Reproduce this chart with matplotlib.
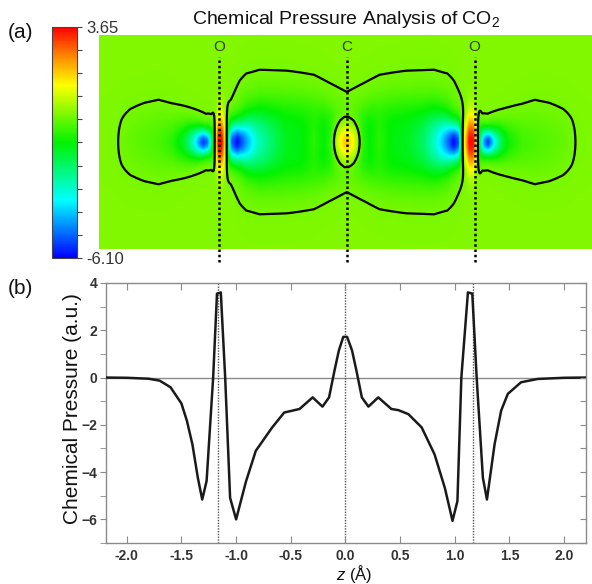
import numpy as np
import matplotlib
matplotlib.use("Agg")
import matplotlib.pyplot as plt
from matplotlib.colors import LinearSegmentedColormap, Normalize

plt.rcParams['font.family'] = ['Liberation Sans', 'DejaVu Sans']
plt.rcParams['mathtext.fontset'] = 'custom'
plt.rcParams['mathtext.rm'] = 'Liberation Sans'
plt.rcParams['mathtext.it'] = 'Liberation Sans:italic'

# ---------------- data ----------------
atom_labels = ["O", "C", "O"]
atom_z = [-1.17, 0.0, 1.17]

# line profile of chemical pressure along the molecular axis (panel b)
z_prof = [-2.2, -2.0, -1.8, -1.7, -1.6, -1.5, -1.45, -1.4, -1.35, -1.31, -1.27,
          -1.21, -1.175, -1.14, -1.10, -1.055, -1.0, -0.91, -0.82, -0.67, -0.56,
          -0.42, -0.30, -0.21, -0.15, -0.10, -0.06, -0.02, 0.015, 0.06, 0.10,
          0.15, 0.21, 0.30, 0.42, 0.485, 0.576, 0.697, 0.815, 0.909, 0.979,
          1.024, 1.06, 1.12, 1.16, 1.20, 1.257, 1.294, 1.364, 1.424, 1.485,
          1.606, 1.757, 2.0, 2.2]
cp_prof = [0.0, -0.01, -0.05, -0.13, -0.41, -1.1, -1.83, -2.82, -4.24, -5.16, -4.38,
           0.0, 3.55, 3.6, 0.0, -5.09, -6.0, -4.4, -3.1, -2.11, -1.48,
           -1.33, -0.84, -1.23, -0.84, 0.3, 1.15, 1.72, 1.72, 1.15, 0.3,
           -0.84, -1.23, -0.84, -1.33, -1.38, -1.55, -2.11, -3.25, -4.67, -6.06,
           -5.23, 0.0, 3.6, 3.55, 0.0, -4.24, -5.16, -2.82, -1.4, -0.69,
           -0.2, -0.06, -0.01, 0.0]

# transverse shape of the 2D map (panel a), given vs |z|
w_absz = [0.0, 0.15, 0.3, 0.5, 0.8, 0.97, 1.06, 1.12, 1.175, 1.24, 1.29, 1.5, 2.3]
w_vals = [0.137, 0.15, 0.2, 0.2, 0.18, 0.12, 0.12, 0.17, 0.17, 0.09, 0.08, 0.12, 0.2]
inner_absz = [0.0, 0.92, 1.1, 2.3]
inner_vals = [-1.3, -1.3, 0.0, 0.0]
inner_W_absz = [0.0, 0.3, 0.55, 0.8, 0.98, 1.1, 2.3]
inner_W_vals = [0.205, 0.268, 0.285, 0.29, 0.27, 0.22, 0.2]
outer_absz = [0.0, 1.19, 1.22, 1.72, 1.85, 1.98, 2.06, 2.1, 2.3]
outer_vals = [0.0, 0.0, -0.4, -0.4, -0.35, -0.25, -0.15, -0.08, 0.0]
outer_W_absz = [0.0, 1.2, 1.24, 1.72, 1.95, 2.3]
outer_W_vals = [0.13, 0.13, 0.13, 0.23, 0.22, 0.22]

cbar_min, cbar_max = -6.10, 3.65
contour_level = -0.1

# ---------------- figure ----------------
FW, FH = 592, 584
fig = plt.figure(figsize=(FW / 100, FH / 100), dpi=100)

def fx(px):
    return px / FW

def fy(py):
    return 1 - py / FH

cmap = LinearSegmentedColormap.from_list(
    "cp", [(0.0, (0.0, 0.0, 1.0)), (0.25, (0.0, 1.0, 1.0)), (0.5, (0.0, 0.95, 0.0)),
           (0.75, (1.0, 1.0, 0.0)), (0.87, (1.0, 0.55, 0.0)), (1.0, (1.0, 0.0, 0.0))])
norm = Normalize(vmin=cbar_min, vmax=cbar_max)

# ---- panel (a): 2D map ----
ax1 = fig.add_axes([fx(99.3), fy(249), fx(592 - 99.3), (249 - 35) / FH])
scale = 109.3
x0 = (99.3 - 346.8) / scale
x1 = (592 - 346.8) / scale
yh = 214 / scale / 2
zz = np.linspace(x0, x1, 1100)
yy = np.linspace(-yh, yh, 500)
Zg, Yg = np.meshgrid(zz, yy)
AZ = np.abs(Zg)
P = np.interp(Zg, z_prof, cp_prof)
w = np.interp(AZ, w_absz, w_vals)
Bi = np.interp(AZ, inner_absz, inner_vals)
Wi = np.interp(AZ, inner_W_absz, inner_W_vals)
Bo = np.interp(AZ, outer_absz, outer_vals)
Wo = np.interp(AZ, outer_W_absz, outer_W_vals)
g = np.exp(-Yg ** 2 / (2 * w ** 2))
Gi = np.exp(-Yg ** 2 / (2 * Wi ** 2))
Go = np.exp(-Yg ** 2 / (2 * Wo ** 2))
F = P * g + Bi * Gi * (1 - g) + Bo * Go

ax1.imshow(F, extent=[x0, x1, -yh, yh], origin='lower', cmap=cmap, norm=norm,
           aspect='auto', interpolation='bilinear')
ax1.contour(Zg, Yg, F, levels=[contour_level], colors='black', linewidths=1.6,
            linestyles='solid')
ax1.set_xlim(x0, x1)
ax1.set_ylim(-yh, yh)
ax1.axis('off')
y_top = yh - (57 - 35) / scale
y_bot = -yh - (262 - 249) / scale
for lab, za in zip(atom_labels, atom_z):
    ax1.plot([za, za], [y_bot, y_top], color='black', lw=1.8, ls=(0, (1, 1.1)),
             clip_on=False)
    ax1.text(za, yh - (47 - 35) / scale, lab, ha='center', va='center',
             fontsize=11, color='#3a3a2a')

# colorbar
cax = fig.add_axes([fx(52), fy(258), 25 / FW, 231 / FH])
sm = matplotlib.cm.ScalarMappable(norm=norm, cmap=cmap)
cb = fig.colorbar(sm, cax=cax)
ticks = np.linspace(cbar_min, cbar_max, 11)
cb.set_ticks(ticks)
cb.set_ticklabels(["%.2f" % cbar_min] + [""] * 9 + ["%.2f" % cbar_max])
cax.tick_params(length=3.5, width=0.8, color='#444444', labelsize=12,
                labelcolor='#333333', pad=3)
cb.outline.set_edgecolor('#444444')
cb.outline.set_linewidth(0.8)

fig.text(fx(346), fy(20), "Chemical Pressure Analysis of CO$_2$", ha='center',
         va='center', fontsize=14, color='#111111')
fig.text(fx(8), fy(33), "(a)", ha='left', va='center', fontsize=15, color='#111111')
fig.text(fx(8), fy(288), "(b)", ha='left', va='center', fontsize=15, color='#111111')

# ---- panel (b): line profile ----
ax2 = fig.add_axes([fx(106), fy(543), 480 / FW, 260 / FH])
ax2.axhline(0, color='#8a8a8a', lw=1.0, zorder=1)
for za in atom_z:
    ax2.axvline(za, color='#555555', lw=1.0, ls=(0, (1, 1)), zorder=1)
ax2.plot(z_prof, cp_prof, color='#1a1a1a', lw=1.8, zorder=3)
ax2.set_xlim(-2.19, 2.2)
ax2.set_ylim(-7, 4)
ax2.set_xticks(np.arange(-2.0, 2.01, 0.5))
ax2.set_xticklabels(["%.1f" % v for v in np.arange(-2.0, 2.01, 0.5)])
ax2.set_yticks(np.arange(-6, 4.1, 2))
ax2.set_yticks(np.arange(-7, 4.1, 1), minor=True)
for s in ax2.spines.values():
    s.set_color('#8a8a8a')
    s.set_linewidth(1.0)
ax2.tick_params(axis='x', which='both', direction='in', top=True, bottom=True,
                length=5, color='#8a8a8a', labelsize=10, labelcolor='#333333', pad=4)
ax2.tick_params(axis='y', which='both', direction='out', left=True, right=False,
                length=4.3, color='#8a8a8a', labelsize=10, labelcolor='#333333', pad=2)
for lab in ax2.get_xticklabels() + ax2.get_yticklabels():
    lab.set_fontweight('bold')
ax2r = ax2.twinx()
ax2r.set_ylim(-7, 4)
ax2r.set_yticks(np.arange(-7, 4.1, 1))
ax2r.tick_params(axis='y', direction='in', length=4, color='#8a8a8a', labelright=False)
for s in ax2r.spines.values():
    s.set_visible(False)

ax2.set_ylabel("Chemical Pressure (a.u.)", fontsize=15, color='#111111')
ax2.yaxis.set_label_coords(-0.05, (543 - 408.5) / 260)
fig.text(fx(354), fy(574), "$z$ (Å)", ha='center', va='center', fontsize=12,
         color='#111111')

fig.savefig("out.png", dpi=100)
